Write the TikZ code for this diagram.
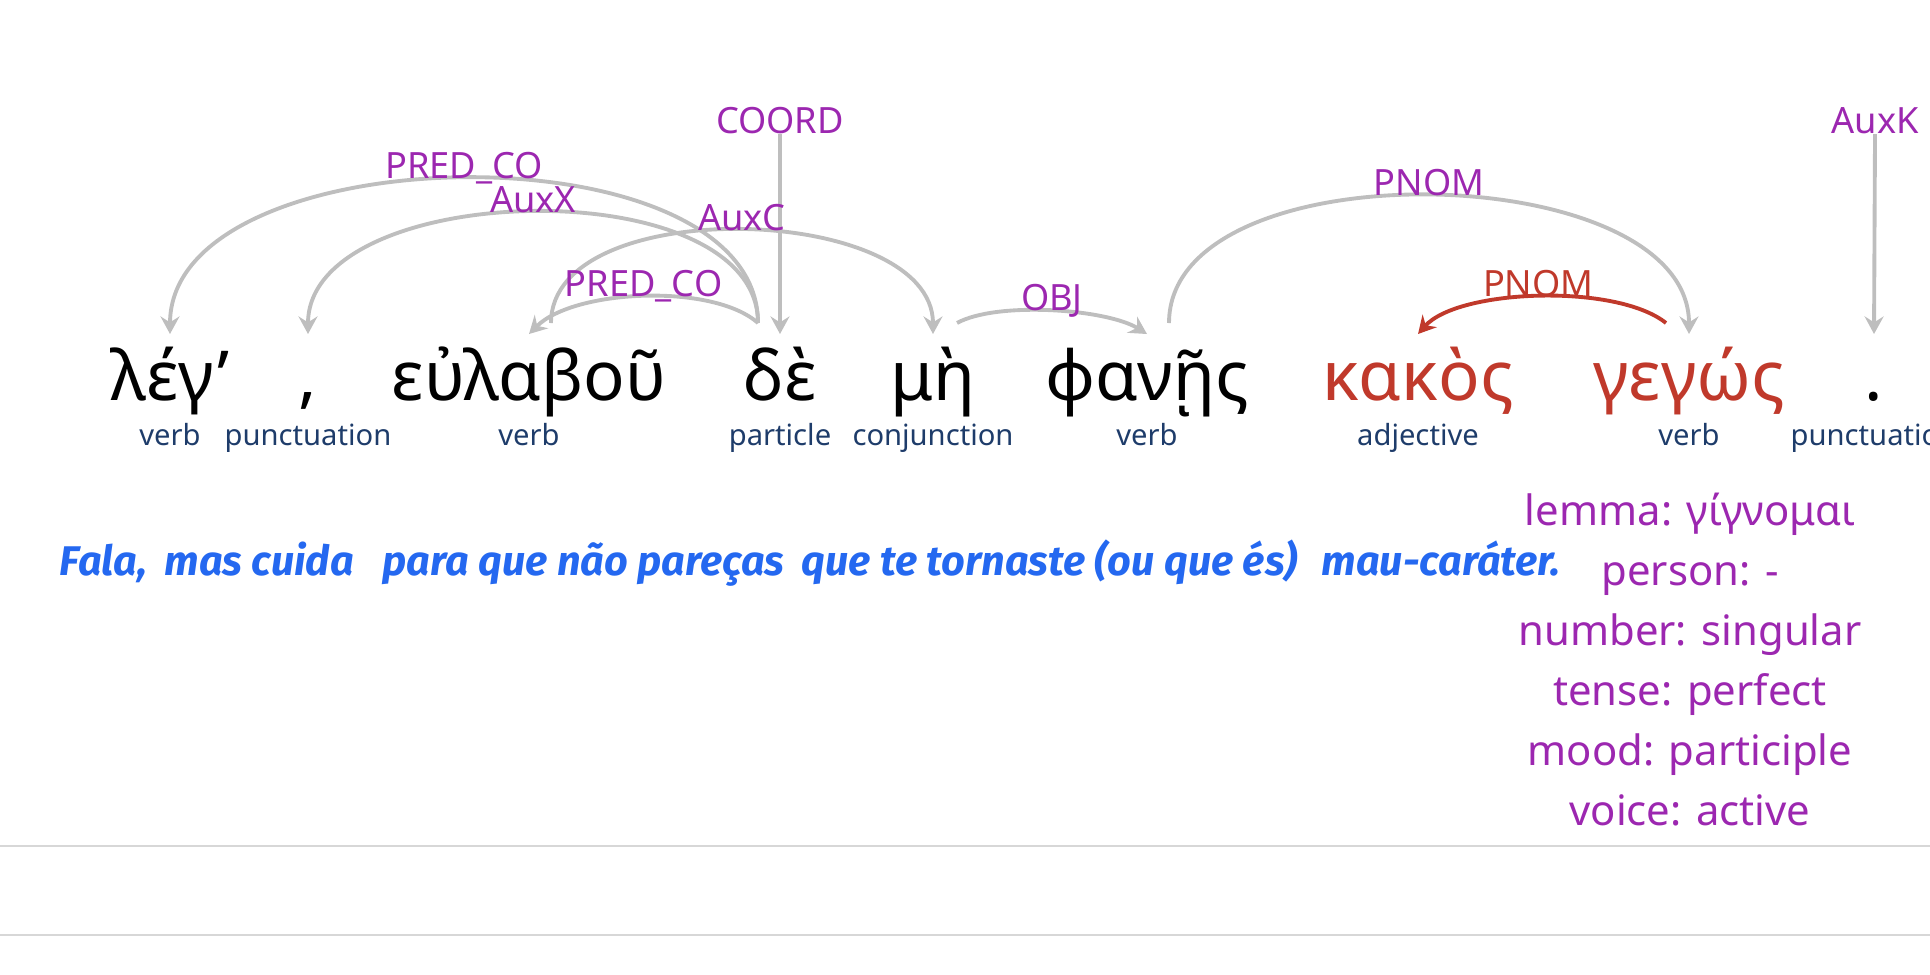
\documentclass[tikz,border=0pt]{standalone}
\usepackage{fontspec}
\setmainfont{Noto Sans}
\newfontfamily\transfont{Fira Sans}
\usetikzlibrary{arrows.meta, calc}
\definecolor{arcgray}{RGB}{190,190,190}
\definecolor{relpurple}{RGB}{156,39,176}
\definecolor{tagnavy}{RGB}{30,60,106}
\definecolor{focusred}{RGB}{192,57,43}
\definecolor{transblue}{RGB}{36,104,240}
\definecolor{rulegray}{RGB}{215,215,215}

\begin{document}
\begin{tikzpicture}[x=0.1mm,y=-0.1mm,>={Stealth[length=5pt,width=5.4pt,inset=1.7pt]},
  word/.style={anchor=base,inner sep=0pt,font=\fontsize{19.6}{22}\selectfont},
  tag/.style={anchor=base,inner sep=0pt,text=tagnavy,font=\fontsize{8.3}{10}\selectfont},
  rel/.style={anchor=base,inner sep=0pt,text=relpurple,font=\fontsize{10.3}{12}\selectfont},
  arc/.style={->,draw=arcgray,line width=1.1pt},
  focus/.style={text=focusred},
  trans/.style={anchor=base west,inner sep=0pt,text=transblue,font=\transfont\bfseries\itshape\fontsize{11.8}{14}\selectfont},
]
\useasboundingbox (0,0) rectangle (1930,974);

% the sentence
\node[word] (wLeg) at (170,400) {λέγ’};
\node[word] (wComma) at (308,400) {,};
\node[word] (wEul) at (529,400) {εὐλαβοῦ};
\node[word] (wDe) at (780,400) {δὲ};
\node[word] (wMe) at (933,400) {μὴ};
\node[word] (wPhan) at (1147,400) {φανῇς};
\node[word,focus] (wKak) at (1418,400) {κακὸς};
\node[word,focus] (wGeg) at (1689,400) {γεγώς};
\node[word] (wDot) at (1874,400) {.};

% part of speech
\node[tag] (tLeg) at ($(wLeg.base)+(0,45)$) {verb};
\node[tag] (tComma) at ($(wComma.base)+(0,45)$) {punctuation};
\node[tag] (tEul) at ($(wEul.base)+(0,45)$) {verb};
\node[tag] (tDe) at ($(wDe.base)+(0,45)$) {particle};
\node[tag] (tMe) at ($(wMe.base)+(0,45)$) {conjunction};
\node[tag] (tPhan) at ($(wPhan.base)+(0,45)$) {verb};
\node[tag] (tKak) at ($(wKak.base)+(0,45)$) {adjective};
\node[tag] (tGeg) at ($(wGeg.base)+(0,45)$) {verb};
\node[tag] (tDot) at ($(wDot.base)+(0,45)$) {punctuation};

% root relations
\node[rel] (rCoord) at (780,133) {COORD};
\node[rel] (rAuxK) at (1875,133) {AuxK};
\draw[arc] (rCoord.south) -- ($(wDe.base)+(0,-66)$);
\draw[arc] (rAuxK.south) -- ($(wDot.base)+(0,-66)$);

% arcs
\draw[arc] ($(wDe.base)+(-22,-77)$) .. controls +(0,-200) and +(0,-200) .. ($(wLeg.base)+(0,-66)$)
  node[rel,pos=0.5] {PRED\_CO};
\draw[arc] ($(wDe.base)+(-22,-77)$) .. controls +(0,-155) and +(0,-155) .. ($(wComma.base)+(0,-66)$)
  node[rel,pos=0.5] {AuxX};
\draw[arc] ($(wEul.base)+(22,-77)$) .. controls +(0,-131) and +(0,-131) .. ($(wMe.base)+(0,-66)$)
  node[rel,pos=0.5] {AuxC};
\draw[arc] ($(wDe.base)+(-22,-77)$) .. controls +(-45,-40) and +(45,-45) .. ($(wEul.base)+(0,-66)$)
  node[rel,pos=0.5] {PRED\_CO};
\draw[arc] ($(wMe.base)+(24,-77)$) .. controls +(40,-22) and +(-40,-25) .. ($(wPhan.base)+(0,-66)$)
  node[rel,pos=0.5] {OBJ};
\draw[arc] ($(wPhan.base)+(22,-77)$) .. controls +(0,-177) and +(0,-177) .. ($(wGeg.base)+(0,-66)$)
  node[rel,pos=0.5] {PNOM};
\draw[arc,draw=focusred] ($(wGeg.base)+(-23,-77)$) .. controls +(-50,-40) and +(40,-45) .. ($(wKak.base)+(0,-66)$)
  node[rel,pos=0.5,text=focusred] {PNOM};

% translation
\node[trans] (tr1) at (59,575) {Fala,};
\node[trans] (tr2) at (164,575) {mas cuida};
\node[trans] (tr3) at (382,575) {para que não pareças};
\node[trans] (tr4) at (801,575) {que te tornaste (ou que és)};
\node[trans] (tr5) at (1321,575) {mau-caráter.};

% morphology
\node[anchor=north,align=center,inner sep=0pt,text=relpurple,font=\fontsize{11.9}{17.07}\selectfont] (morph) at (1690,492)
  {lemma: γίγνομαι\\person: -\\number: singular\\tense: perfect\\mood: participle\\voice: active};

\draw[rulegray,line width=0.6pt] (0,846) -- (1930,846);
\draw[rulegray,line width=0.6pt] (0,935) -- (1930,935);
\end{tikzpicture}
\end{document}
